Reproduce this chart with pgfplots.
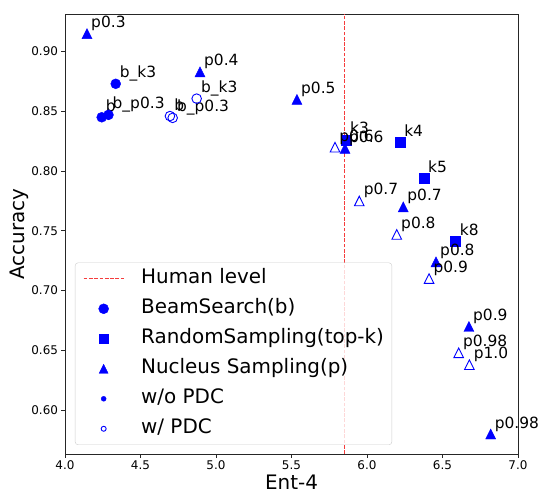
\documentclass[border=0pt]{standalone}
\usepackage{fontspec}
\setmainfont{DejaVu Sans}
\usepackage{pgfplots}
\usepackage{pgfplotstable}
\pgfplotsset{compat=1.18}
\definecolor{mblue}{RGB}{0,0,255}
\definecolor{humanred}{RGB}{245,60,60}

% matplotlib-like triangle (width = height)
\pgfdeclareplotmark{mtri}{%
  \pgfpathmoveto{\pgfqpoint{0pt}{\pgfplotmarksize}}%
  \pgfpathlineto{\pgfqpoint{-\pgfplotmarksize}{-\pgfplotmarksize}}%
  \pgfpathlineto{\pgfqpoint{\pgfplotmarksize}{-\pgfplotmarksize}}%
  \pgfpathclose\pgfusepathqfillstroke}
\pgfdeclareplotmark{mtrio}{%
  \pgfpathmoveto{\pgfqpoint{0pt}{\pgfplotmarksize}}%
  \pgfpathlineto{\pgfqpoint{-\pgfplotmarksize}{-\pgfplotmarksize}}%
  \pgfpathlineto{\pgfqpoint{\pgfplotmarksize}{-\pgfplotmarksize}}%
  \pgfpathclose\pgfusepathqstroke}

% beam search, w/o PDC
\pgfplotstableread{
x y label
4.243 0.845 b
4.288 0.847 b\_p0.3
4.336 0.873 b\_k3
}\beamA
% beam search, w/ PDC
\pgfplotstableread{
x y label
4.695 0.846 b
4.713 0.8445 b\_p0.3
4.872 0.8606 b\_k3
}\beamB
% random sampling top-k, w/o PDC
\pgfplotstableread{
x y label
5.860 0.826 k3
6.219 0.824 k4
6.377 0.794 k5
6.587 0.741 k8
}\randA
% nucleus sampling, w/o PDC
\pgfplotstableread{
x y label
4.146 0.915 p0.3
4.894 0.883 p0.4
5.536 0.860 p0.5
5.854 0.819 p0.6
6.240 0.770 p0.7
6.457 0.724 p0.8
6.675 0.670 p0.9
6.819 0.580 p0.98
}\nucA
% nucleus sampling, w/ PDC
\pgfplotstableread{
x y label
5.788 0.820 p0.6
5.949 0.775 p0.7
6.197 0.747 p0.8
6.411 0.710 p0.9
6.607 0.648 p0.98
6.678 0.638 p1.0
}\nucB

\pgfplotsset{
  lbl/.style={nodes near coords, point meta=explicit symbolic,
    every node near coord/.append style={anchor=base west, inner sep=0pt,
      xshift=4bp, yshift=6bp, text=black, font=\fontsize{15.5}{18}\selectfont}},
}

\begin{document}
\begin{tikzpicture}
\begin{axis}[
  scale only axis, width=453bp, height=440bp,
  xmin=4.0, xmax=7.0, ymin=0.5633, ymax=0.9314,
  xtick={4.0,4.5,5.0,5.5,6.0,6.5,7.0},
  ytick={0.60,0.65,0.70,0.75,0.80,0.85,0.90},
  tick pos=left, tick align=outside, major tick length=3.5bp,
  axis line style={black!85, line width=0.8bp},
  every tick/.style={black!85, line width=0.8bp},
  /pgf/number format/assume math mode=true,
  tick label style={font=\fontsize{12}{14}\selectfont},
  xticklabel style={/pgf/number format/fixed, /pgf/number format/fixed zerofill, /pgf/number format/precision=1},
  yticklabel style={/pgf/number format/fixed, /pgf/number format/fixed zerofill, /pgf/number format/precision=2},
  xlabel={Ent-4}, ylabel={Accuracy},
  label style={font=\fontsize{20}{24}\selectfont},
  xlabel style={at={(axis description cs:0.5,0)}, anchor=north, inner sep=0pt, yshift=-21bp},
  ylabel style={at={(axis description cs:0,0.5)}, anchor=south, inner sep=0pt, yshift=36bp},
  clip=false,
  legend cell align=left,
  legend style={at={(axis description cs:0.022,0.0205)}, anchor=south west,
    draw=black!20, fill=white, fill opacity=0.8, text opacity=1, draw opacity=1,
    rounded corners=3bp, inner xsep=8bp, inner ysep=6bp, row sep=10bp,
    font=\fontsize{20}{24}\selectfont,
    nodes={inner sep=0pt, text height=15bp, text depth=5bp},
    /tikz/every odd column/.append style={column sep=17bp}},
]
\addlegendimage{legend image code/.code={\draw[draw=humanred, draw opacity=1, line width=1bp, dash pattern=on 3.7bp off 1.6bp] (0bp,0bp) -- (40bp,0bp);}}
\addlegendentry{Human level}
\addlegendimage{legend image code/.code={\draw[mblue, fill=mblue, fill opacity=1] plot[only marks, mark=*, mark size=5bp] coordinates {(20bp,0bp)};}}
\addlegendentry{BeamSearch(b)}
\addlegendimage{legend image code/.code={\draw[mblue, fill=mblue, fill opacity=1] plot[only marks, mark=square*, mark size=4.5bp] coordinates {(20bp,0bp)};}}
\addlegendentry{RandomSampling(top-k)}
\addlegendimage{legend image code/.code={\draw[mblue, fill=mblue, fill opacity=1] plot[only marks, mark=mtri, mark size=4.5bp] coordinates {(20bp,0bp)};}}
\addlegendentry{Nucleus Sampling(p)}
\addlegendimage{legend image code/.code={\draw[mblue, fill=mblue, fill opacity=1] plot[only marks, mark=*, mark size=2.5bp] coordinates {(20bp,0bp)};}}
\addlegendentry{w/o PDC}
\addlegendimage{legend image code/.code={\draw[mblue, line width=0.9bp] plot[only marks, mark=o, mark size=2.5bp] coordinates {(20bp,0bp)};}}
\addlegendentry{w/ PDC}

\addplot[forget plot, humanred, line width=1bp, dash pattern=on 3.7bp off 1.6bp] coordinates {(5.85,0.5633) (5.85,0.9314)};

\addplot[forget plot, only marks, mark=*, mark size=5bp, mblue, fill=mblue, lbl] table[x=x, y=y, meta=label] {\beamA};
\addplot[forget plot, only marks, mark=o, mark size=4.8bp, mblue, line width=0.9bp, lbl] table[x=x, y=y, meta=label] {\beamB};
\addplot[forget plot, only marks, mark=square*, mark size=5bp, mblue, fill=mblue, lbl] table[x=x, y=y, meta=label] {\randA};
\addplot[forget plot, only marks, mark=mtri, mark size=5bp, mblue, fill=mblue, lbl] table[x=x, y=y, meta=label] {\nucA};
\addplot[forget plot, only marks, mark=mtrio, mark size=4.8bp, mblue, line width=0.9bp, lbl] table[x=x, y=y, meta=label] {\nucB};
\end{axis}
\pgfresetboundingbox
\path[use as bounding box] (-65bp,-37bp) rectangle (477bp,454bp);
\end{tikzpicture}
\end{document}
